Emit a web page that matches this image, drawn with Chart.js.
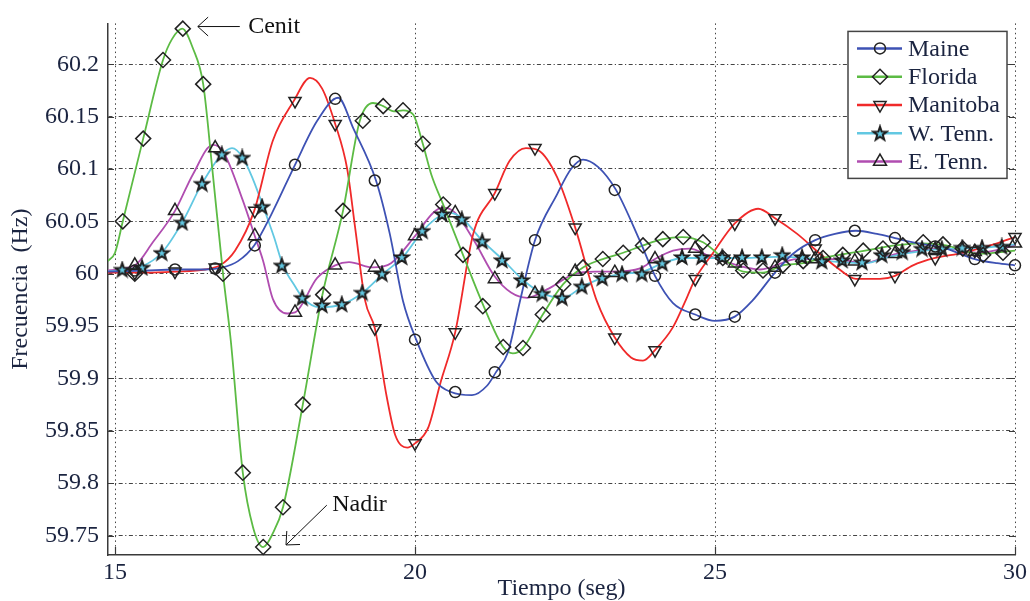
<!DOCTYPE html>
<html>
<head>
<meta charset="utf-8">
<title>Frecuencia</title>
<script src="https://cdn.jsdelivr.net/npm/chart.js@4/dist/chart.umd.min.js"></script>
<style>
  html, body { margin: 0; padding: 0; background: #fff; }
  #wrap { width: 1030px; height: 601px; }
</style>
</head>
<body>
<div id="wrap"><canvas id="freqChart" width="1030" height="601"></canvas></div>
<script>
// ejes
var xTicks = [15, 20, 25, 30];
var yTicks = [59.75, 59.8, 59.85, 59.9, 59.95, 60, 60.05, 60.1, 60.15, 60.2];
var yTickLabels = ['59.75', '59.8', '59.85', '59.9', '59.95', '60', '60.05', '60.1', '60.15', '60.2'];

// Maine
var tMaine = [14.88, 15.5, 16.0, 16.5, 16.8, 17.05, 17.32, 17.6, 18.0, 18.37, 18.72, 18.97, 19.35, 19.58, 19.8,
  20.02, 20.35, 20.6, 20.95, 21.2, 21.35, 21.55, 21.75, 22.0, 22.37, 22.6, 22.8, 23.05, 23.35, 23.75,
  24.0, 24.3, 24.67, 25.0, 25.33, 25.62, 26.0, 26.3, 26.67, 27.0, 27.35, 27.7, 28.0, 28.3, 28.85, 29.33, 29.7, 30.0];
var fMaine = [60.002, 60.003, 60.004, 60.004, 60.006, 60.012, 60.027, 60.056, 60.104, 60.146, 60.168, 60.139, 60.089, 60.038, 59.974,
  59.937, 59.897, 59.887, 59.884, 59.893, 59.906, 59.925, 59.974, 60.032, 60.076, 60.1, 60.109, 60.102, 60.08, 60.031,
  59.998, 59.972, 59.961, 59.955, 59.959, 59.974, 60.001, 60.019, 60.032, 60.038, 60.041, 60.038, 60.034, 60.03, 60.024, 60.014, 60.01, 60.008];
var tMaineMk = [15.33, 16.0, 16.67, 17.33, 18.0, 18.67, 19.33, 20.0, 20.67, 21.33, 22.0, 22.67, 23.33, 24.0, 24.67,
  25.33, 26.0, 26.67, 27.33, 28.0, 28.67, 29.33, 30.0];
var fMaineMk = [60.003, 60.004, 60.005, 60.027, 60.104, 60.167, 60.089, 59.937, 59.887, 59.906, 60.032, 60.107, 60.08, 59.998, 59.961,
  59.959, 60.001, 60.032, 60.041, 60.034, 60.026, 60.014, 60.008];

// Florida
var tFlorida = [14.88, 15.0, 15.13, 15.47, 15.8, 15.95, 16.12, 16.3, 16.47, 16.62, 16.8, 16.93, 17.13, 17.3, 17.47,
  17.63, 17.8, 18.13, 18.45, 18.8, 19.08, 19.3, 19.47, 19.65, 19.8, 19.97, 20.13, 20.27, 20.47, 20.8,
  21.13, 21.47, 21.63, 21.8, 22.13, 22.47, 22.8, 23.13, 23.47, 23.8, 24.13, 24.45, 24.8, 25.13, 25.47,
  25.8, 26.13, 26.47, 26.8, 27.5, 28.0, 28.45, 28.85, 29.4, 30.0];
var fFlorida = [60.012, 60.02, 60.05, 60.129, 60.204, 60.224, 60.234, 60.215, 60.181, 60.101, 60.0, 59.936, 59.81, 59.758, 59.739,
  59.752, 59.777, 59.875, 59.978, 60.06, 60.146, 60.163, 60.16, 60.155, 60.156, 60.152, 60.124, 60.095, 60.066, 60.018,
  59.971, 59.93, 59.924, 59.929, 59.961, 59.99, 60.006, 60.014, 60.02, 60.027, 60.033, 60.035, 60.03, 60.015, 60.002,
  60.001, 60.008, 60.01, 60.015, 60.022, 60.027, 60.029, 60.027, 60.019, 60.022];
var tFloridaMk = [15.13, 15.33, 15.47, 15.8, 16.13, 16.47, 16.8, 17.13, 17.47, 17.8, 18.13, 18.47, 18.8, 19.13, 19.47,
  19.8, 20.13, 20.47, 20.8, 21.13, 21.47, 21.8, 22.13, 22.47, 22.8, 23.13, 23.47, 23.8, 24.13, 24.47,
  24.8, 25.13, 25.47, 25.8, 26.13, 26.47, 26.8, 27.13, 27.47, 27.8, 28.13, 28.47, 28.8, 29.13, 29.47, 29.8];
var fFloridaMk = [60.05, 60.0, 60.129, 60.204, 60.234, 60.181, 60.0, 59.81, 59.739, 59.777, 59.875, 59.98, 60.06, 60.146, 60.16,
  60.156, 60.124, 60.066, 60.018, 59.969, 59.93, 59.929, 59.961, 59.99, 60.006, 60.014, 60.02, 60.027, 60.033, 60.035,
  60.03, 60.015, 60.003, 60.003, 60.008, 60.012, 60.015, 60.018, 60.022, 60.024, 60.027, 60.03, 60.028, 60.024, 60.018, 60.02];

// Manitoba
var tManitoba = [14.88, 15.5, 16.0, 16.5, 16.75, 17.0, 17.32, 17.63, 17.98, 18.25, 18.45, 18.67, 18.87, 19.0, 19.17,
  19.33, 19.53, 19.67, 19.87, 20.0, 20.22, 20.42, 20.67, 20.97, 21.33, 21.58, 21.85, 22.05, 22.37, 22.67,
  23.03, 23.33, 23.6, 23.8, 24.0, 24.3, 24.53, 24.67, 24.97, 25.33, 25.72, 26.0, 26.37, 26.75, 27.03,
  27.35, 27.75, 28.0, 28.3, 28.67, 29.13, 29.7, 30.0];
var fManitoba = [60.001, 60.001, 60.002, 60.004, 60.008, 60.022, 60.06, 60.127, 60.165, 60.187, 60.177, 60.143, 60.1, 60.045, 59.974,
  59.948, 59.882, 59.846, 59.834, 59.838, 59.853, 59.895, 59.944, 60.038, 60.077, 60.108, 60.12, 60.118, 60.092, 60.044,
  59.974, 59.939, 59.92, 59.917, 59.927, 59.949, 59.977, 59.995, 60.02, 60.048, 60.062, 60.053, 60.038, 60.019, 60.006,
  59.995, 59.995, 59.998, 60.008, 60.015, 60.02, 60.029, 60.035];
var tManitobaMk = [15.33, 16.0, 16.67, 17.33, 18.0, 18.67, 19.33, 20.0, 20.67, 21.33, 22.0, 22.67, 23.33, 24.0, 24.67,
  25.33, 26.0, 26.67, 27.33, 28.0, 28.67, 29.33, 30.0];
var fManitobaMk = [60.001, 60.002, 60.006, 60.06, 60.165, 60.143, 59.948, 59.838, 59.944, 60.077, 60.12, 60.044, 59.939, 59.927, 59.995,
  60.048, 60.053, 60.024, 59.995, 59.998, 60.015, 60.022, 60.035];

// W. Tenn.
var tWTenn = [14.88, 15.2, 15.45, 15.78, 16.12, 16.45, 16.78, 16.95, 17.13, 17.3, 17.47, 17.65, 17.8, 18.0, 18.13,
  18.4, 18.8, 19.13, 19.47, 19.8, 20.13, 20.47, 20.6, 20.8, 21.13, 21.47, 21.8, 22.13, 22.47, 22.8,
  23.13, 23.47, 23.8, 24.13, 24.47, 25.0, 25.5, 26.0, 26.5, 26.9, 27.5, 27.9, 28.5, 29.0, 29.5, 30.0];
var fWTenn = [60.002, 60.004, 60.007, 60.02, 60.049, 60.086, 60.114, 60.12, 60.111, 60.09, 60.064, 60.035, 60.008, 59.988, 59.977,
  59.968, 59.971, 59.982, 60.0, 60.016, 60.041, 60.057, 60.058, 60.052, 60.031, 60.013, 59.994, 59.981, 59.977, 59.988,
  59.996, 60.0, 60.002, 60.01, 60.015, 60.015, 60.015, 60.016, 60.015, 60.012, 60.01, 60.016, 60.022, 60.024, 60.025, 60.028];
var tWTennMk = [15.12, 15.45, 15.78, 16.12, 16.45, 16.78, 17.12, 17.45, 17.78, 18.12, 18.45, 18.78, 19.12, 19.45, 19.78,
  20.12, 20.45, 20.78, 21.12, 21.45, 21.78, 22.12, 22.45, 22.78, 23.12, 23.45, 23.78, 24.12, 24.45, 24.78,
  25.12, 25.45, 25.78, 26.12, 26.45, 26.78, 27.12, 27.45, 27.78, 28.12, 28.45, 28.78, 29.12, 29.45, 29.78];
var fWTennMk = [60.004, 60.006, 60.02, 60.049, 60.086, 60.114, 60.111, 60.064, 60.008, 59.977, 59.97, 59.971, 59.982, 60.0, 60.016,
  60.041, 60.057, 60.052, 60.031, 60.013, 59.994, 59.981, 59.977, 59.988, 59.996, 60.0, 60.0, 60.01, 60.016, 60.016,
  60.016, 60.016, 60.016, 60.018, 60.016, 60.012, 60.013, 60.011, 60.018, 60.021, 60.024, 60.024, 60.025, 60.025, 60.026];

// E. Tenn.
var tETenn = [14.88, 15.33, 15.63, 16.0, 16.3, 16.63, 16.8, 17.13, 17.33, 17.47, 17.63, 17.87, 18.0, 18.37, 18.67,
  18.9, 19.3, 19.6, 20.0, 20.3, 20.47, 20.67, 21.0, 21.32, 21.6, 21.87, 22.2, 22.67, 23.0, 23.33,
  23.75, 24.0, 24.3, 24.58, 24.9, 25.25, 25.75, 26.37, 27.03, 27.47, 28.03, 28.85, 29.4, 30.0];
var fETenn = [60.003, 60.008, 60.03, 60.06, 60.095, 60.123, 60.117, 60.07, 60.036, 60.012, 59.976, 59.962, 59.963, 59.996, 60.008,
  60.011, 60.006, 60.01, 60.036, 60.058, 60.063, 60.058, 60.03, 59.998, 59.982, 59.977, 59.985, 60.0, 60.002, 60.002,
  60.005, 60.014, 60.022, 60.024, 60.017, 60.01, 60.004, 60.014, 60.014, 60.01, 60.019, 60.024, 60.02, 60.027];
var tETennMk = [15.33, 16.0, 16.67, 17.33, 18.0, 18.67, 19.33, 20.0, 20.67, 21.33, 22.0, 22.67, 23.33, 24.0, 24.67,
  25.33, 26.0, 26.67, 27.33, 28.0, 28.67, 29.33, 30.0];
var fETennMk = [60.008, 60.06, 60.12, 60.036, 59.963, 60.008, 60.006, 60.036, 60.058, 59.995, 59.981, 60.002, 60.001, 60.014, 60.024,
  60.01, 60.006, 60.014, 60.012, 60.019, 60.023, 60.021, 60.029];

var fuente = '"Liberation Serif", "Times New Roman", serif';
var colorTexto = '#1b2440';

// estrella de cinco puntas (no existe en Chart.js)
function estrella(relleno) {
  var c = document.createElement('canvas');
  c.width = 18; c.height = 18;
  var g = c.getContext('2d');
  g.beginPath();
  for (var i = 0; i < 10; i++) {
    var r = i % 2 === 0 ? 7.2 : 2.9;
    var a = -Math.PI / 2 + i * Math.PI / 5;
    var px = 9 + r * Math.cos(a), py = 9.6 + r * Math.sin(a);
    if (i === 0) g.moveTo(px, py); else g.lineTo(px, py);
  }
  g.closePath();
  g.fillStyle = relleno;
  g.fill();
  g.lineJoin = 'miter';
  g.lineWidth = 2;
  g.strokeStyle = '#1e1e1e';
  g.stroke();
  return c;
}

var series = [
  { label: 'Maine', t: tMaine, f: fMaine, tm: tMaineMk, fm: fMaineMk, color: '#3e52b4', marker: 'circle', radius: 5.5, rot: 0 },
  { label: 'Florida', t: tFlorida, f: fFlorida, tm: tFloridaMk, fm: fFloridaMk, color: '#5cbb44', marker: 'rectRot', radius: 7.5, rot: 0 },
  { label: 'Manitoba', t: tManitoba, f: fManitoba, tm: tManitobaMk, fm: fManitobaMk, color: '#f02a2a', marker: 'triangle', radius: 7, rot: 180 },
  { label: 'W. Tenn.', t: tWTenn, f: fWTenn, tm: tWTennMk, fm: fWTennMk, color: '#62c8e2', marker: estrella('#62c8e2'), radius: 7, rot: 0 },
  { label: 'E. Tenn.', t: tETenn, f: fETenn, tm: tETennMk, fm: fETennMk, color: '#b04db0', marker: 'triangle', radius: 7.5, rot: 0 }
];

function puntos(ts, fs) {
  return ts.map(function (t, i) { return { x: t, y: fs[i] }; });
}

var datasets = [];
series.forEach(function (s) {
  datasets.push({
    label: s.label,
    data: puntos(s.t, s.f),
    borderColor: s.color,
    borderWidth: 1.8,
    pointRadius: 0,
    fill: false,
    cubicInterpolationMode: 'monotone',
    order: 1
  });
  datasets.push({
    label: s.label + ' (marcas)',
    data: puntos(s.tm, s.fm),
    showLine: false,
    pointStyle: s.marker,
    pointRadius: s.radius,
    pointRotation: s.rot,
    pointBorderColor: '#222',
    pointBackgroundColor: 'rgba(0,0,0,0)',
    pointBorderWidth: 1.5,
    clip: false,
    order: 0
  });
});

// ticks hacia dentro en los bordes
var marcasEjes = {
  id: 'marcasEjes',
  afterDraw: function (chart) {
    var c = chart.ctx, a = chart.chartArea, sx = chart.scales.x, sy = chart.scales.y;
    c.save();
    c.strokeStyle = '#3a3a3a';
    c.lineWidth = 1.2;
    c.beginPath();
    yTicks.forEach(function (v) {
      var py = Math.round(sy.getPixelForValue(v)) + 0.5;
      c.moveTo(a.left, py); c.lineTo(a.left + 6, py);
      c.moveTo(a.right, py); c.lineTo(a.right - 6, py);
    });
    xTicks.forEach(function (v) {
      var px = Math.round(sx.getPixelForValue(v)) + 0.5;
      c.moveTo(px, a.bottom); c.lineTo(px, a.bottom - 8);
    });
    c.stroke();
    c.restore();
  }
};

function flecha(c, x0, y0, x1, y1) {
  var ang = Math.atan2(y1 - y0, x1 - x0), L = 14, abre = 0.74;
  c.beginPath();
  c.moveTo(x0, y0);
  c.lineTo(x1, y1);
  c.moveTo(x1 - L * Math.cos(ang - abre), y1 - L * Math.sin(ang - abre));
  c.lineTo(x1, y1);
  c.lineTo(x1 - L * Math.cos(ang + abre), y1 - L * Math.sin(ang + abre));
  c.stroke();
}

// Cenit / Nadir
var notas = {
  id: 'notas',
  afterDraw: function (chart) {
    var c = chart.ctx, sx = chart.scales.x, sy = chart.scales.y;
    c.save();
    c.strokeStyle = '#111';
    c.lineWidth = 1;
    flecha(c, sx.getPixelForValue(17.08), sy.getPixelForValue(60.236), sx.getPixelForValue(16.38), sy.getPixelForValue(60.236));
    flecha(c, sx.getPixelForValue(18.53), sy.getPixelForValue(59.779), sx.getPixelForValue(17.85), sy.getPixelForValue(59.741));
    c.fillStyle = '#111';
    c.font = '24px ' + fuente;
    c.textBaseline = 'middle';
    c.textAlign = 'left';
    c.fillText('Cenit', sx.getPixelForValue(17.22), sy.getPixelForValue(60.236));
    c.fillText('Nadir', sx.getPixelForValue(18.62), sy.getPixelForValue(59.779));
    c.restore();
  }
};

// leyenda con linea y marcador
var leyenda = {
  id: 'leyenda',
  afterDraw: function (chart) {
    var c = chart.ctx, a = chart.chartArea;
    var w = 159, h = 147, x0 = a.right - 8 - w, y0 = a.top + 8;
    c.save();
    c.fillStyle = '#fff';
    c.fillRect(x0, y0, w, h);
    c.strokeStyle = '#444';
    c.lineWidth = 1.5;
    c.strokeRect(x0, y0, w, h);
    c.font = '24px ' + fuente;
    c.textBaseline = 'middle';
    c.textAlign = 'left';
    series.forEach(function (s, i) {
      var yy = y0 + 17 + i * 28.3;
      c.strokeStyle = s.color;
      c.lineWidth = 2.5;
      c.beginPath();
      c.moveTo(x0 + 9, yy);
      c.lineTo(x0 + 54, yy);
      c.stroke();
      c.strokeStyle = '#222';
      c.fillStyle = 'rgba(0,0,0,0)';
      c.lineWidth = 1.5;
      Chart.helpers.drawPoint(c, { pointStyle: s.marker, radius: s.radius, rotation: s.rot, borderWidth: 1.5 }, x0 + 32, yy);
      c.fillStyle = colorTexto;
      c.fillText(s.label, x0 + 60, yy + 1);
    });
    c.restore();
  }
};

new Chart(document.getElementById('freqChart'), {
  type: 'line',
  data: { datasets: datasets },
  plugins: [marcasEjes, notas, leyenda],
  options: {
    responsive: false,
    animation: false,
    devicePixelRatio: 1,
    events: [],
    layout: { padding: { left: 0, top: 22, right: 15, bottom: 0 } },
    plugins: {
      legend: { display: false },
      tooltip: { enabled: false }
    },
    scales: {
      x: {
        type: 'linear',
        min: 14.8833,
        max: 30,
        afterBuildTicks: function (scale) {
          scale.ticks = xTicks.map(function (v) { return { value: v }; });
        },
        afterFit: function (scale) { scale.height = 46; },
        ticks: {
          autoSkip: false,
          maxRotation: 0,
          padding: 3,
          color: colorTexto,
          font: { family: fuente, size: 24 },
          callback: function (v) { return String(v); }
        },
        grid: { color: '#444', lineWidth: 1, drawTicks: false },
        border: { display: true, color: '#3a3a3a', width: 1.5, dash: [1.5, 3.2] },
        title: {
          display: true,
          text: 'Tiempo (seg)',
          color: colorTexto,
          font: { family: fuente, size: 24, lineHeight: 1 },
          padding: { top: 0, bottom: 0 }
        }
      },
      y: {
        type: 'linear',
        min: 59.7314,
        max: 60.239,
        afterBuildTicks: function (scale) {
          scale.ticks = yTicks.map(function (v) { return { value: v }; });
        },
        afterFit: function (scale) { scale.width = 108; },
        ticks: {
          autoSkip: false,
          padding: 9,
          color: colorTexto,
          font: { family: fuente, size: 24 },
          callback: function (v) {
            var i = yTicks.indexOf(v);
            return i >= 0 ? yTickLabels[i] : '';
          }
        },
        grid: { color: '#444', lineWidth: 1, drawTicks: false },
        border: { display: true, color: '#3a3a3a', width: 1.5, dash: [4, 2.5, 1.2, 2.5] },
        title: {
          display: true,
          text: 'Frecuencia  (Hz)',
          color: colorTexto,
          font: { family: fuente, size: 24, lineHeight: 1 },
          padding: { top: 9, bottom: 0 }
        }
      }
    }
  }
});
</script>
</body>
</html>
